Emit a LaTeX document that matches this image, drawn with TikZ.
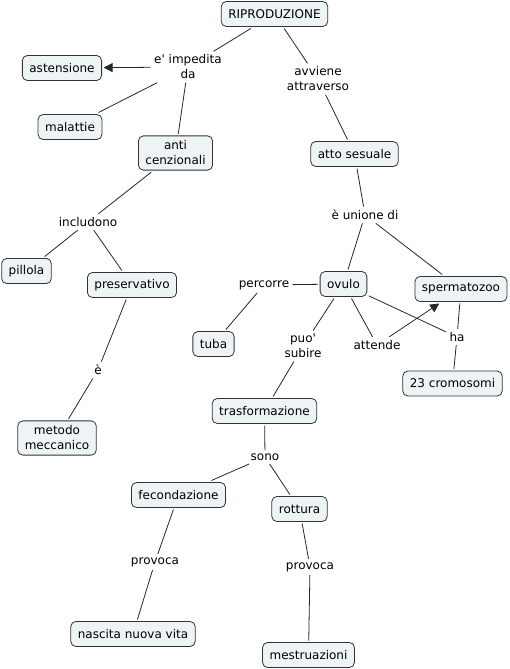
\documentclass[tikz,border=0pt]{standalone}
\usepackage{fontspec}
\setmainfont{DejaVu Sans}[Ligatures=TeXOff]
\usetikzlibrary{arrows.meta}
\tikzset{
  concept/.style={draw=black!80, fill=cfill, rounded corners=5pt, line width=0.8pt,
    inner xsep=7pt, inner ysep=5pt, minimum height=25pt, align=center,
    font=\fontsize{12}{15}\selectfont, outer sep=2pt},
  phrase/.style={inner sep=2pt, align=center, font=\fontsize{12}{15}\selectfont, outer sep=1.5pt},
  link/.style={draw=black!85, line width=0.8pt},
  arrowlink/.style={link, -{Triangle[length=9pt,width=9pt]}}
}
\definecolor{cfill}{HTML}{EEF3F5}
\begin{document}
\begin{tikzpicture}[x=1pt,y=-1pt]
\useasboundingbox (0,0) rectangle (509,669);
% concepts
\node[concept] (rip) at (274.5,14) {RIPRODUZIONE};
\node[concept] (ast) at (62,68) {astensione};
\node[concept] (mal) at (70,127) {malattie};
\node[concept] (anti) at (175.5,153) {anti\\cenzionali};
\node[concept] (atto) at (354.5,154) {atto sesuale};
\node[concept] (pil) at (26.5,271) {pillola};
\node[concept] (pres) at (132,285) {preservativo};
\node[concept] (met) at (57,438) {metodo\\meccanico};
\node[concept] (tuba) at (213.5,344) {tuba};
\node[concept] (ovu) at (343.5,284) {ovulo};
\node[concept] (sperm) at (461,289) {spermatozoo};
\node[concept] (crom) at (452.5,383.5) {23 cromosomi};
\node[concept] (tras) at (264.5,411) {trasformazione};
\node[concept] (fec) at (178.5,495) {fecondazione};
\node[concept] (rot) at (299.5,509) {rottura};
\node[concept] (nas) at (133,634) {nascita nuova vita};
\node[concept] (mes) at (308.5,655) {mestruazioni};
% phrases
\node[phrase] (imp) at (188,67) {e' impedita\\da};
\node[phrase] (avv) at (318,79) {avviene\\attraverso};
\node[phrase] (inc) at (88,222) {includono};
\node[phrase] (e) at (98,370) {è};
\node[phrase] (uni) at (365,215) {è unione di};
\node[phrase] (per) at (264,285) {percorre};
\node[phrase] (puo) at (303,346) {puo'\\subire};
\node[phrase] (att) at (377,345) {attende};
\node[phrase] (ha) at (457,337) {ha};
\node[phrase] (sono) at (265,457) {sono};
\node[phrase] (prov1) at (155,562) {provoca};
\node[phrase] (prov2) at (310,567) {provoca};
% links
\draw[link] (rip) -- (imp);
\draw[arrowlink] (imp) -- (ast);
\draw[link] (imp) -- (mal);
\draw[link] (imp) -- (anti);
\draw[link] (rip) -- (avv);
\draw[link] (avv) -- (atto);
\draw[link] (anti) -- (inc);
\draw[link] (inc) -- (pil);
\draw[link] (inc) -- (pres);
\draw[link] (pres) -- (e);
\draw[link] (e) -- (met);
\draw[link] (atto) -- (uni);
\draw[link] (uni) -- (ovu);
\draw[link] (uni) -- (sperm);
\draw[link] (ovu) -- (per);
\draw[link] (per) -- (tuba);
\draw[link] (ovu) -- (puo);
\draw[link] (puo) -- (tras);
\draw[link] (ovu) -- (att);
\draw[arrowlink] (att) -- (sperm);
\draw[link] (ovu) -- (ha);
\draw[link] (sperm) -- (ha);
\draw[link] (ha) -- (crom);
\draw[link] (tras) -- (sono);
\draw[link] (sono) -- (fec);
\draw[link] (sono) -- (rot);
\draw[link] (fec) -- (prov1);
\draw[link] (prov1) -- (nas);
\draw[link] (rot) -- (prov2);
\draw[link] (prov2) -- (mes);
\end{tikzpicture}
\end{document}
